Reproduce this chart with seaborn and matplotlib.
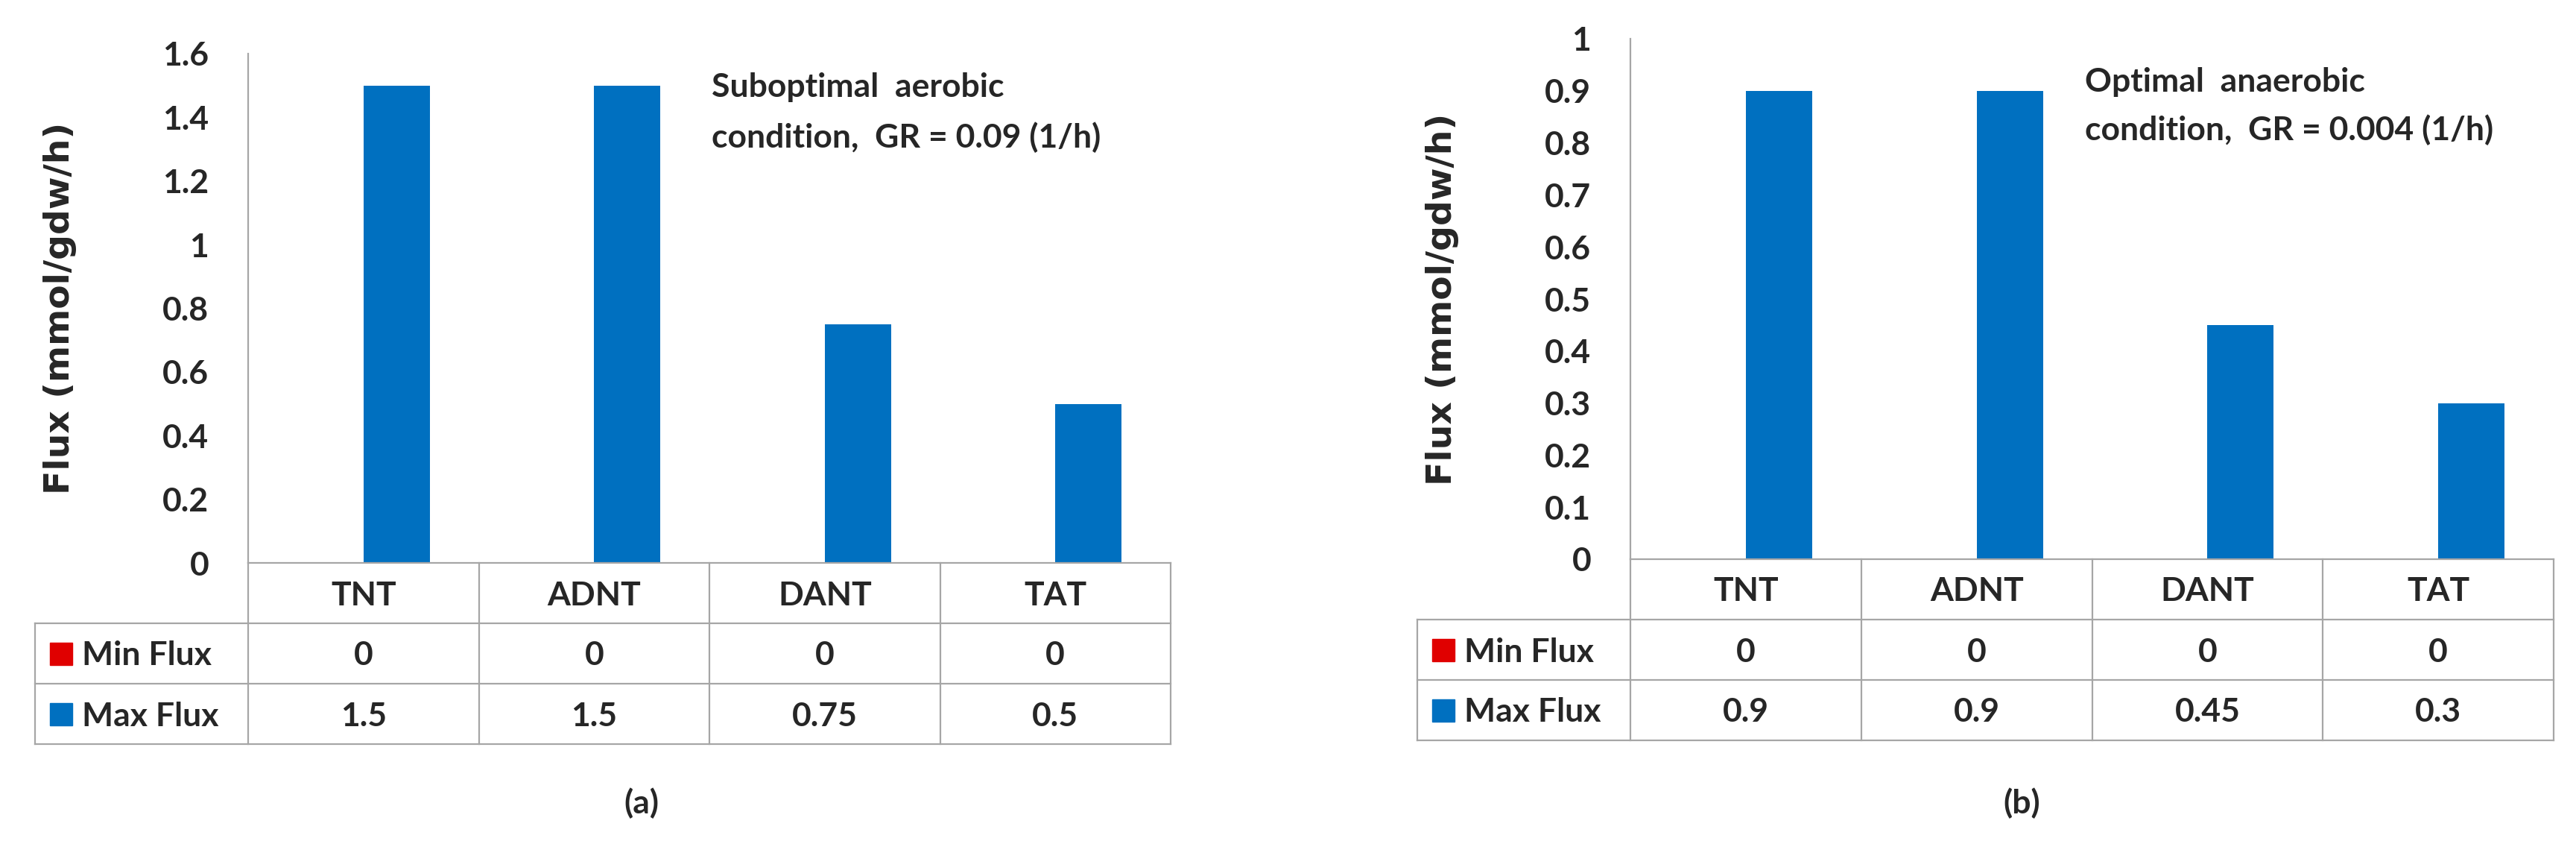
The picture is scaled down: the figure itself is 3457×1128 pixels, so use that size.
import numpy as np
import pandas as pd
import matplotlib.pyplot as plt
import seaborn as sns
from matplotlib.transforms import blended_transform_factory

# ---- data ----
compounds = ["TNT", "ADNT", "DANT", "TAT"]
series_names = ["Min Flux", "Max Flux"]

min_flux_a = [0, 0, 0, 0]
max_flux_a = [1.5, 1.5, 0.75, 0.5]
min_flux_b = [0, 0, 0, 0]
max_flux_b = [0.9, 0.9, 0.45, 0.3]

yticks_a = [0, 0.2, 0.4, 0.6, 0.8, 1.0, 1.2, 1.4, 1.6]
yticks_b = [0, 0.1, 0.2, 0.3, 0.4, 0.5, 0.6, 0.7, 0.8, 0.9, 1.0]

notes_a = ["Suboptimal  aerobic", "condition,  GR = 0.09 (1/h)"]
notes_b = ["Optimal  anaerobic", "condition,  GR = 0.004 (1/h)"]
tags = ["(a)", "(b)"]
ylabel = "Flux (mmol/gdw/h)"

palette = {"Min Flux": "#E00000", "Max Flux": "#0070C0"}
grid_col = "#A6A6A6"

sns.set_style("white")
plt.rcParams["font.family"] = ["Lato", "DejaVu Sans"]
plt.rcParams["font.weight"] = "bold"

W, H = 3457, 1128
fig = plt.figure(figsize=(W / 100, H / 100), dpi=100)

# pixel layout of each panel (plot area + table)
layout = [
    dict(left=333, right=1571, top=72, bottom=755, tag_x=861,
         note_x=1.510, note_y=(130, 198)),
    dict(left=2188, right=3427, top=52, bottom=750, tag_x=2713,
         note_x=1.469, note_y=(123, 188)),
]
row_px = 81
label_w = 0.924      # width of the row-label column, in category units
fs = 32


def fmt(v):
    return f"{v:g}"


def draw_panel(lay, min_vals, max_vals, ticks, notes, tag):
    ax_h = lay["bottom"] - lay["top"]
    ax = fig.add_axes([lay["left"] / W, 1 - lay["bottom"] / H,
                       (lay["right"] - lay["left"]) / W, ax_h / H])

    df = pd.DataFrame({
        "compound": compounds * 2,
        "series": [series_names[0]] * len(compounds) + [series_names[1]] * len(compounds),
        "flux": list(min_vals) + list(max_vals),
    })
    sns.barplot(data=df, x="compound", y="flux", hue="series",
                hue_order=series_names, palette=palette, saturation=1,
                width=0.575, linewidth=0, legend=False, ax=ax)

    ax.set_xlim(-0.5, len(compounds) - 0.5)
    ax.set_ylim(0, ticks[-1])
    ax.set_yticks(ticks)
    ax.set_yticklabels([fmt(t) for t in ticks], fontsize=fs)
    ax.set_xticks([])
    ax.set_xlabel("")
    ax.tick_params(axis="y", length=0, pad=38)
    for s in ["top", "right"]:
        ax.spines[s].set_visible(False)
    for s in ["left", "bottom"]:
        ax.spines[s].set_color(grid_col)
        ax.spines[s].set_linewidth(1.6)

    ax.set_ylabel(ylabel, fontsize=34, fontweight="bold", family=["DejaVu Sans"])
    ax.yaxis.set_label_coords(-0.186, 0.5)

    # data table under the axis
    tr = blended_transform_factory(ax.transData, ax.transAxes)
    r = row_px / ax_h
    cap = 16 / ax_h
    x0 = -0.5
    x_end = len(compounds) - 0.5
    x_lab = x0 - label_w
    kw = dict(transform=tr, clip_on=False, color=grid_col, lw=1.6,
              solid_capstyle="projecting")
    for i in range(len(compounds) + 1):
        ax.plot([x0 + i, x0 + i], [0, -3 * r], **kw)
    for k in (1, 2, 3):
        ax.plot([x_lab, x_end], [-k * r, -k * r], **kw)
    ax.plot([x_lab, x_lab], [-r, -3 * r], **kw)

    for i, c in enumerate(compounds):
        ax.text(i, -0.5 * r - cap, c, transform=tr, ha="center",
                va="baseline", fontsize=fs)
    for k, (name, vals) in enumerate(zip(series_names, [min_vals, max_vals])):
        yb = -(1.5 + k) * r - cap
        for i, v in enumerate(vals):
            ax.text(i, yb, fmt(v), transform=tr, ha="center",
                    va="baseline", fontsize=fs)
        ax.text(x_lab + 0.204, yb, name, transform=tr, ha="left",
                va="baseline", fontsize=fs)
        ax.plot([x_lab + 0.113], [-(1.5 + k) * r], marker="s", ms=22,
                color=palette[name], transform=tr, clip_on=False)

    for line, yp in zip(notes, lay["note_y"]):
        ax.text(lay["note_x"], (lay["bottom"] - yp) / ax_h, line,
                transform=tr, ha="left", va="baseline", fontsize=fs)

    fig.text(lay["tag_x"] / W, 1 - 1077 / H, tag, ha="center",
             va="center", fontsize=fs)
    return ax


draw_panel(layout[0], min_flux_a, max_flux_a, yticks_a, notes_a, tags[0])
draw_panel(layout[1], min_flux_b, max_flux_b, yticks_b, notes_b, tags[1])

fig.savefig("out.png", dpi=100)
